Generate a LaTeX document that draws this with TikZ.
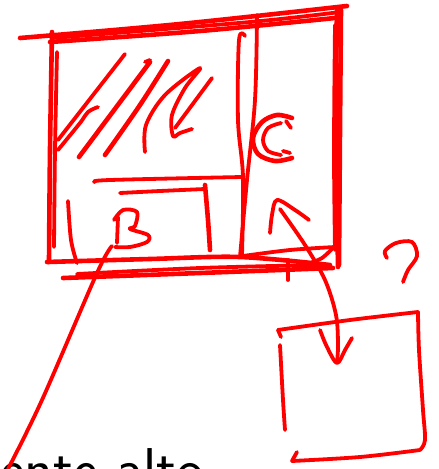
\documentclass[tikz,border=0pt]{standalone}
\begin{document}
\begin{tikzpicture}[x=1pt,y=-1pt,
  pen/.style={draw=red,line width=4.6pt,line cap=round,line join=round},
  thin pen/.style={draw=red,line width=3.8pt,line cap=round,line join=round},
  hand/.style={smooth,tension=0.55}]
\useasboundingbox (0,0) rectangle (439,469);
\clip (0,0) rectangle (439,469);
% ---- main frame ----
\draw[pen] plot[hand] coordinates {(20,38) (180,24) (347,6)};
\draw[pen] plot[hand] coordinates {(50,42) (200,31) (335,18)};
\draw[thin pen] plot[hand] coordinates {(52,38) (250,22) (340,12)};
\draw[pen] plot[hand] coordinates {(52,32) (50,150) (49,262)};
\draw[thin pen] plot[hand] coordinates {(57,52) (55,150) (54,247)};
\draw[pen] plot[hand] coordinates {(337,8) (336,100) (337,200) (338,267)};
\draw[pen] plot[hand] coordinates {(341,10) (340,130) (339,265)};
\draw[thin pen] plot[hand] coordinates {(335,25) (334,150) (335,250)};
\draw[thin pen] plot[hand] coordinates {(333,248) (322,258) (310,263)};
\draw[pen] plot[hand] coordinates {(47,262) (150,259) (240,257) (330,265)};
\draw[pen] plot[hand] coordinates {(63,278) (200,273) (333,268)};
\draw[thin pen] plot[hand] coordinates {(77,274) (200,268) (318,265)};
\draw[thin pen] plot[hand] coordinates {(243,256) (290,250) (335,247)};
\draw[thin pen] (288,260) -- (288,280);
% ---- dividers ----
\draw[thin pen] plot[hand] coordinates {(257,15) (255,100) (247,180) (240,257)};
\draw[thin pen] plot[hand] coordinates {(245,36) (239,40) (238,120) (243,177) (242,255)};
\draw[thin pen] plot[hand] coordinates {(95,182) (110,180) (242,177)};
% ---- box B ----
\draw[thin pen] plot[hand] coordinates {(120,193) (160,191) (205,189)};
\draw[pen] plot[hand] coordinates {(205,185) (208,220) (210,250)};
\draw[thin pen] plot[hand] coordinates {(68,201) (71,240) (77,263)};
% letter B
\draw[thin pen] plot[hand] coordinates {(118,217) (117,243)};
\draw[thin pen] plot[hand] coordinates {(114,220) (123,210) (137,212) (135,226) (130,229) (148,235) (147,242) (130,247) (115,247)};
% ---- hatching ----
\draw[thin pen] (125,54) -- (58,140);
\draw[thin pen] plot[hand] coordinates {(98,107) (88,112) (80,123) (58,150)};
\draw[pen] (79,157) -- (150,62);
\draw[pen] plot[hand] coordinates {(105,155) (140,105) (168,61)};
\draw[thin pen] plot[hand] coordinates {(145,62) (150,60)};
\draw[thin pen] plot[hand] coordinates {(145,152) (146,125) (165,95) (200,68) (185,88) (172,115) (173,136) (180,133) (192,129)};
\draw[thin pen] (212,78) -- (175,128);
% ---- letter C ----
\draw[pen] plot[hand] coordinates {(292,118) (277,115) (262,122) (253,138) (258,154) (275,161) (292,158)};
\draw[thin pen] plot[hand] coordinates {(281,123) (268,128) (263,140) (268,151) (281,155)};
\draw[thin pen] (286,121) -- (291,128);
\draw[thin pen] (283,151) -- (290,153);
% ---- double arrow ----
\draw[thin pen] plot[hand] coordinates {(280,209) (305,245) (325,280) (336,315) (338,345) (337,362)};
\draw[thin pen] plot[hand] coordinates {(270,233) (272,215) (277,200) (295,210) (309,220)};
\draw[thin pen] plot[hand] coordinates {(320,330) (327,347) (337,363) (345,350) (352,338)};
% ---- lower box ----
\draw[thin pen] plot[hand] coordinates {(278,330) (350,320) (418,312)};
\draw[thin pen] (278,330) -- (281,337);
\draw[thin pen] plot[hand] coordinates {(280,345) (283,400) (285,430)};
\draw[thin pen] plot[hand] coordinates {(418,312) (419,350) (423,410) (425,440) (420,450)};
\draw[thin pen] plot[hand] coordinates {(420,450) (360,457) (292,461)};
\draw[thin pen] (292,461) -- (297,452);
% ---- question mark ----
\draw[thin pen] plot[hand] coordinates {(387,258) (385,251) (396,243) (412,242) (417,256) (408,270) (403,282)};
% ---- text and pointer ----
\node[anchor=base west,inner sep=0pt,font=\sffamily\fontsize{59}{68}\selectfont] (txt) at (0,489) {ente alto};
\draw[thin pen] plot[hand] coordinates {(112,246) (97,273) (42,400) (8,469)};
\end{tikzpicture}
\end{document}
